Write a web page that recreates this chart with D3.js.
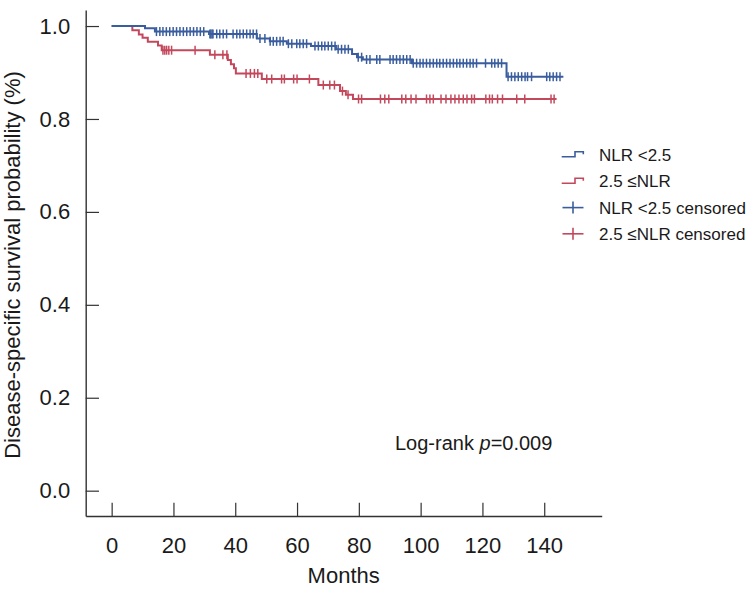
<!DOCTYPE html>
<html><head><meta charset="utf-8">
<script src="https://cdn.jsdelivr.net/npm/d3@7"></script>
<style>
html,body{margin:0;padding:0;background:#fff;}
svg{display:block;font-family:"Liberation Sans",Arial,Helvetica,sans-serif;}
</style></head>
<body>
<svg id="chart" width="752" height="589"></svg>
<script>
// ---- data ----
const xTicks = [0, 20, 40, 60, 80, 100, 120, 140];
const yTicks = [0.0, 0.2, 0.4, 0.6, 0.8, 1.0];
const yTickLabels = ["0.0", "0.2", "0.4", "0.6", "0.8", "1.0"];

// NLR < 2.5 : event times (months) and survival after each step
const lowTimes = [0, 10.8, 14.0, 31.5, 47.0, 51.2, 56.7, 64.5, 72.6, 77.8, 79.4, 81.3, 97.2, 127.8];
const lowSurv  = [1.0, 0.995, 0.988, 0.983, 0.973, 0.967, 0.962, 0.957, 0.950, 0.940, 0.933, 0.928, 0.920, 0.891];
const lowEnd = 146.2;
const lowCensor = [14.5, 15.6, 16.6, 17.7, 18.8, 19.9, 21.0, 22.1, 23.2, 24.3, 25.4, 26.5, 27.6, 28.7, 29.8,
  31.8, 32.1, 32.5, 32.8, 34.0, 35.0, 36.1, 37.2, 39.3, 40.5, 41.5, 42.6, 43.7, 44.8, 45.8, 46.9,
  48.0, 49.6, 51.3, 52.3, 53.4, 54.5, 55.5, 57.2, 58.3, 59.9, 60.9, 62.0, 63.1,
  65.8, 66.9, 68.0, 69.0, 70.1, 71.2, 72.3, 73.3, 74.4, 75.5, 76.6,
  79.8, 80.9, 82.5, 83.6, 85.8, 86.8, 90.1, 91.1, 92.2, 93.3, 94.4, 95.5, 96.6,
  97.6, 98.7, 99.8, 100.8, 101.9, 103.0, 104.1, 105.2, 106.2, 107.3, 108.4, 109.5, 110.6, 111.7, 112.7, 113.8, 114.9,
  116.0, 117.0, 118.1, 121.0, 123.0, 124.0, 125.1, 126.2,
  128.3, 129.4, 130.5, 131.6, 132.7, 133.8, 134.6, 135.9, 140.8, 141.8, 142.9, 144.0, 145.1];

// 2.5 <= NLR
const highTimes = [0, 6.7, 8.8, 10.0, 11.7, 15.0, 16.2, 31.8, 37.6, 38.6, 39.6, 40.2, 48.6, 66.9, 73.9, 75.8, 78.1];
const highSurv  = [1.0, 0.991, 0.982, 0.975, 0.966, 0.958, 0.948, 0.938, 0.927, 0.918, 0.909, 0.898, 0.886, 0.873, 0.860, 0.852, 0.843];
const highEnd = 144.0;
const highCensor = [16.6, 17.2, 17.8, 18.5, 19.4, 27.0, 33.4, 36.0, 37.3, 43.5, 44.9, 46.2, 47.3,
  50.2, 51.8, 55.0, 55.9, 58.9, 60.0, 64.0, 68.5, 70.6, 72.1, 74.7, 76.5, 79.9, 80.9,
  87.0, 88.4, 89.7, 93.9, 95.2, 96.9, 98.5, 101.9, 103.0, 104.1, 106.6, 108.2, 109.8, 111.1, 112.4, 113.8,
  115.0, 116.5, 117.4, 121.1, 122.3, 123.2, 124.9, 126.5, 131.1, 133.7, 142.2, 143.2];

const legendLabels = ["NLR <2.5", "2.5 \u2264NLR", "NLR <2.5 censored", "2.5 \u2264NLR censored"];
const colors = {low: "#3a5d9e", high: "#c4485c"};

// ---- scales ----
const svg = d3.select("#chart");
const x = d3.scaleLinear().domain([-8.4, 158.6]).range([85.7, 601.7]);
const y = d3.scaleLinear().domain([-0.0545, 1.0345]).range([516, 10]);
const axisColor = "#333";

// axes
const gx = svg.append("g").attr("transform", "translate(0,516)")
  .call(d3.axisBottom(x).tickValues(xTicks).tickSize(-13.3).tickSizeOuter(0).tickPadding(21.7).tickFormat(d3.format("d")));
const gy = svg.append("g").attr("transform", "translate(85.7,0)")
  .call(d3.axisLeft(y).tickValues(yTicks).tickSize(-13.3).tickSizeOuter(0).tickPadding(15.5)
    .tickFormat((d, i) => yTickLabels[i]));
[gx, gy].forEach(g => {
  g.selectAll("path.domain").attr("stroke", axisColor).attr("stroke-width", 1.4);
  g.selectAll(".tick line").attr("stroke", axisColor).attr("stroke-width", 1.2);
  g.selectAll(".tick text").attr("fill", "#1a1a1a").style("font-size", "22px").style("font-family", "inherit");
});

// axis titles
svg.append("text").attr("x", 343.7).attr("y", 583).attr("text-anchor", "middle")
  .style("font-size", "22px").attr("fill", "#1a1a1a").text("Months");
svg.append("text").attr("transform", "translate(20,265) rotate(-90)").attr("text-anchor", "middle")
  .style("font-size", "22px").attr("fill", "#1a1a1a").text("Disease-specific survival probability (%)");

// ---- curves ----
function stepData(times, surv, end) {
  const pts = times.map((t, i) => ({t: t, s: surv[i]}));
  pts.push({t: end, s: surv[surv.length - 1]});
  return pts;
}
function survAt(times, surv, t) {
  const i = d3.bisectRight(times, t) - 1;
  return surv[Math.max(0, i)];
}
const line = d3.line().x(d => x(d.t)).y(d => y(d.s)).curve(d3.curveStepAfter);

function drawGroup(times, surv, end, censor, color) {
  svg.append("path").datum(stepData(times, surv, end))
    .attr("d", line).attr("fill", "none").attr("stroke", color).attr("stroke-width", 2);
  svg.append("g").selectAll("line").data(censor).join("line")
    .attr("x1", d => x(d)).attr("x2", d => x(d))
    .attr("y1", d => y(survAt(times, surv, d)) - 4.5)
    .attr("y2", d => y(survAt(times, surv, d)) + 4.5)
    .attr("stroke", color).attr("stroke-width", 1.5);
}
drawGroup(highTimes, highSurv, highEnd, highCensor, colors.high);
drawGroup(lowTimes, lowSurv, lowEnd, lowCensor, colors.low);

// ---- legend ----
const legendRows = [154.5, 181, 207.6, 233.8];
const lg = svg.append("g");
legendLabels.forEach((lab, i) => {
  const cy = legendRows[i];
  const col = (i % 2 === 0) ? colors.low : colors.high;
  if (i < 2) {
    lg.append("path")
      .attr("d", `M561.7,${cy + 2.3}H575V${cy - 2.8}H583.3V${cy - 0.3}`)
      .attr("fill", "none").attr("stroke", col).attr("stroke-width", 1.6);
  } else {
    lg.append("line").attr("x1", 562.5).attr("x2", 583.5).attr("y1", cy).attr("y2", cy)
      .attr("stroke", col).attr("stroke-width", 1.6);
    lg.append("line").attr("x1", 573).attr("x2", 573).attr("y1", cy - 6).attr("y2", cy + 6)
      .attr("stroke", col).attr("stroke-width", 1.6);
  }
  lg.append("text").attr("x", 599).attr("y", cy + 6.2)
    .style("font-size", "17px").attr("fill", "#1a1a1a").text(lab);
});

// ---- annotation ----
const ann = svg.append("text").attr("x", 395).attr("y", 450).style("font-size", "20px").attr("fill", "#1a1a1a");
ann.append("tspan").text("Log-rank ");
ann.append("tspan").style("font-style", "italic").text("p");
ann.append("tspan").text("=0.009");
</script>
</body></html>
